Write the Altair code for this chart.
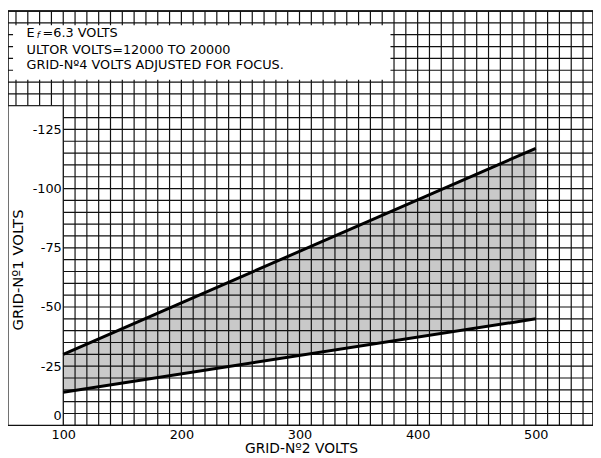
import altair as alt
import pandas as pd

# ---- data ----
grid2_volts = [100, 500]          # x of the band ends
grid1_upper = [-30, -117]         # upper (more negative) boundary
grid1_lower = [-14, -45]          # lower boundary

x_label_values = [100, 200, 300, 400, 500]
y_label_values = [0, -25, -50, -75, -100, -125]
x_grid_values = list(range(60, 550, 10))
y_grid_values = list(range(0, -180, -5))

note_lines = [
    "ULTOR VOLTS=12000 TO 20000",
    "GRID-Nº4 VOLTS ADJUSTED FOR FOCUS.",
]

FONT = "DejaVu Sans"
XMIN, XMAX = 53.24, 548.43
YMIN, YMAX = -175, 0

xs = alt.Scale(domain=[XMIN, XMAX], nice=False, zero=False)
ys = alt.Scale(domain=[YMIN, YMAX], reverse=True, nice=False, zero=False)

xaxis = alt.Axis(
    values=x_label_values, grid=False, ticks=False, domain=False,
    labelFont=FONT, labelFontSize=13, labelColor="black", labelPadding=3,
    labelExpr="'' + datum.value",
    title="GRID-Nº2 VOLTS", titleFont=FONT, titleFontSize=14,
    titleFontWeight="normal", titleColor="black",
    titleX=297, titleY=28, titleBaseline="alphabetic", zindex=1,
)
yaxis = alt.Axis(
    values=y_label_values, grid=False, ticks=False, domain=False,
    offset=-56, labelPadding=2,
    labelFont=FONT, labelFontSize=13, labelColor="black",
    labelExpr="'' + datum.value",
    labelOffset=alt.condition("datum.value == 0", alt.value(-10), alt.value(0)),
    title="GRID-Nº1 VOLTS", titleFont=FONT, titleFontSize=15,
    titleFontWeight="normal", titleColor="black",
    titleX=-41, titleY=262, titleAngle=270, titleBaseline="alphabetic",
    titleAlign="center", zindex=1,
)

band = pd.DataFrame({"v2": grid2_volts, "upper": grid1_upper, "lower": grid1_lower})

area = alt.Chart(band).mark_area(color="#c9c9c9").encode(
    x=alt.X("v2:Q", scale=xs, axis=xaxis),
    y=alt.Y("upper:Q", scale=ys, axis=yaxis),
    y2="lower:Q",
)

vgrid = alt.Chart(pd.DataFrame({"g": x_grid_values})).mark_rule(
    color="#111111", strokeWidth=1.2
).encode(x=alt.X("g:Q", scale=xs))

hgrid = alt.Chart(pd.DataFrame({"g": y_grid_values})).mark_rule(
    color="#111111", strokeWidth=1.2
).encode(y=alt.Y("g:Q", scale=ys))

left_box = alt.Chart(pd.DataFrame({"a": [0]})).mark_rect(
    fill="white", stroke="#111111", strokeWidth=1.2
).encode(
    x=alt.datum(XMIN), x2=alt.datum(100),
    y=alt.datum(0), y2=alt.datum(-135),
)

note_box = alt.Chart(pd.DataFrame({"a": [0]})).mark_rect(fill="white").encode(
    x=alt.datum(57.5), x2=alt.datum(377),
    y=alt.datum(-146), y2=alt.datum(-169),
)

upper_line = alt.Chart(band).mark_line(color="black", strokeWidth=3).encode(
    x="v2:Q", y="upper:Q"
)
lower_line = alt.Chart(band).mark_line(color="black", strokeWidth=3).encode(
    x="v2:Q", y="lower:Q"
)

def note(text, x, y, size=13, style="normal", dy=0):
    return alt.Chart(pd.DataFrame({"a": [0]})).mark_text(
        align="left", baseline="alphabetic", font=FONT, fontSize=size,
        fontStyle=style, color="black", dy=dy
    ).encode(x=alt.datum(x), y=alt.datum(y), text=alt.value(text))

texts = [
    note("E", 69.0, -164.0),
    note("f", 77.5, -164.0, size=9, style="italic", dy=1),
    note("=6.3 VOLTS", 82.5, -164.0),
    note(note_lines[0], 69.0, -157.0),
    note(note_lines[1], 69.0, -150.5),
]

chart = alt.layer(
    area, vgrid, hgrid, left_box, note_box, upper_line, lower_line, *texts
).properties(
    width=593, height=420,
    autosize=alt.AutoSizeParams(type="none"),
    padding={"left": 0, "top": 0, "right": 0, "bottom": 30},
).configure_view(stroke="black", strokeWidth=1.5)

chart.save("out.html", embed_options={"renderer": "svg", "actions": False})
